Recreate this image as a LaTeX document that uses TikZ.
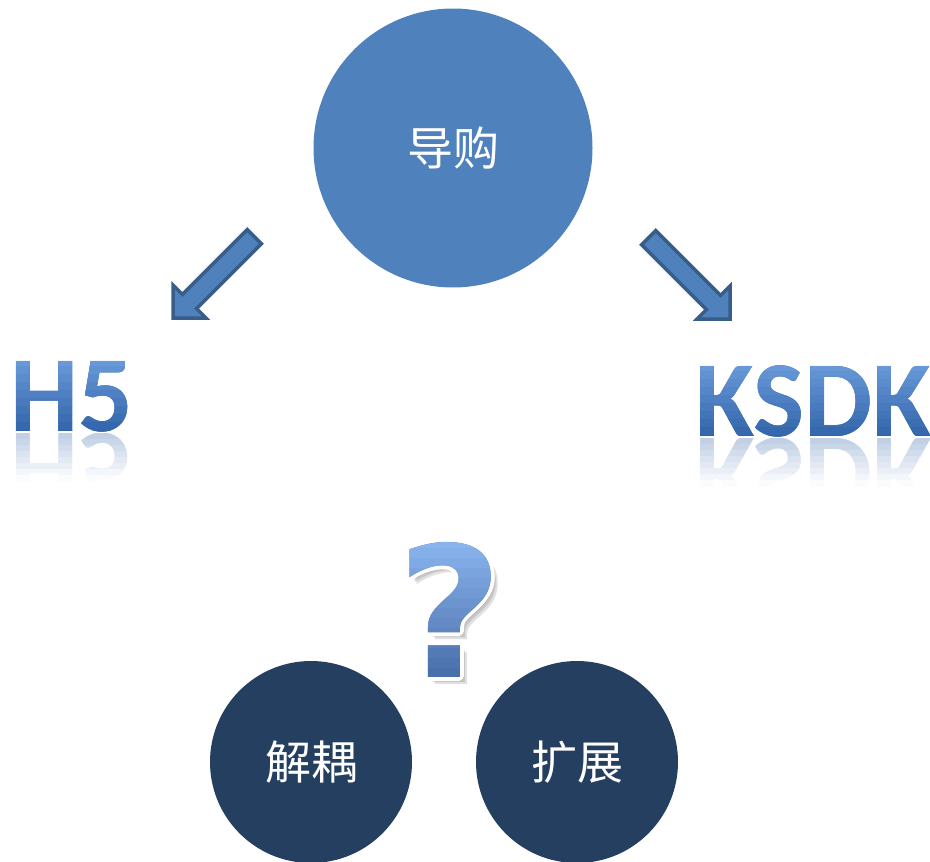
\documentclass[tikz,border=0pt]{standalone}
\usepackage{fontspec}
\newfontfamily\cjk{Noto Sans CJK SC}
\newfontfamily\carl{Carlito}
\newfontfamily\djv{DejaVu Sans}
\definecolor{cblue}{HTML}{4F81BD}
\definecolor{cnavy}{HTML}{243F60}
\definecolor{cedge}{HTML}{385D8A}
\definecolor{wtop}{HTML}{6E9EDD}
\definecolor{wbot}{HTML}{2F62A8}
\definecolor{qtop}{HTML}{8AB4EE}
\definecolor{qbot}{HTML}{4A70AC}
\begin{document}
\begin{tikzpicture}[x=1pt,y=-1pt,
  bigcirc/.style={circle, fill=cblue, draw=none, minimum size=279pt, inner sep=0pt, text=white, font=\cjk\fontsize{46}{46}\selectfont},
  navycirc/.style={circle, fill=cnavy, draw=none, minimum size=202pt, inner sep=0pt, text=white, font=\cjk\fontsize{46}{46}\selectfont},
  blockarrow/.style={fill=cblue, draw=cedge, line width=3.5pt, line join=miter},
  wordart/.style={inner sep=0pt, anchor=base west, font=\carl\bfseries\fontsize{108}{108}\selectfont},
  qmark/.style={inner sep=0pt, anchor=base, font=\djv\bfseries\fontsize{182}{182}\selectfont}]
\useasboundingbox (0,0) rectangle (930,862);

% circles
\node[bigcirc] (dg) at (453,148) {导购};
\node[navycirc] (jo) at (311,762) {解耦};
\node[navycirc] (kz) at (577,762) {扩展};

% block arrows
\draw[blockarrow] (173,318) -- (173,285) -- (182.4,294.4) -- (247.2,229.6) -- (261.4,243.8) -- (196.6,308.6) -- (206,318) -- cycle;
\draw[blockarrow] (730,319) -- (730,286) -- (720.6,295.4) -- (655.8,230.6) -- (641.6,244.8) -- (706.4,309.6) -- (697,319) -- cycle;

% H5 with gradient
\node[wordart, text=wbot] (h5) at (10,431) {H5};
\foreach \i in {0,...,10}{
  \pgfmathsetmacro\p{\i*10}
  \begin{scope}
    \clip (0,350+\i*8) rectangle (200,358.6+\i*8);
    \node[wordart, text=wbot!\p!wtop] (h5g\i) at (10,431) {H5};
  \end{scope}
}
\foreach \i in {0,...,7}{
  \pgfmathsetmacro\p{30-\i*4}
  \begin{scope}
    \clip (0,433+\i*6) rectangle (200,439.6+\i*6);
    \node[wordart, yscale=-1, text=wbot!\p!white] (h5r\i) at (10,433) {H5};
  \end{scope}
}

% KSDK with gradient
\node[wordart, text=wbot] (ksdk) at (695,436) {KSDK};
\foreach \i in {0,...,10}{
  \pgfmathsetmacro\p{\i*10}
  \begin{scope}
    \clip (650,355+\i*8) rectangle (930,363.6+\i*8);
    \node[wordart, text=wbot!\p!wtop] (ksg\i) at (695,436) {KSDK};
  \end{scope}
}
\foreach \i in {0,...,7}{
  \pgfmathsetmacro\p{30-\i*4}
  \begin{scope}
    \clip (650,438+\i*6) rectangle (930,444.6+\i*6);
    \node[wordart, yscale=-1, text=wbot!\p!white] (ksr\i) at (695,438) {KSDK};
  \end{scope}
}

% question mark
\foreach \d in {3,5,7}{
  \node[qmark, text=black, opacity=0.12] (qs\d) at (450+\d,677+\d) {?};
}
\foreach \a in {0,30,...,330}{
  \node[qmark, text=white] (qo\a) at ([shift={(\a:4)}]450,677) {?};
}
\node[qmark, text=qbot] (qm) at (450,677) {?};
\foreach \i in {0,...,13}{
  \pgfmathsetmacro\p{\i*100/13}
  \begin{scope}
    \clip (380,538+\i*10) rectangle (520,548.6+\i*10);
    \node[qmark, text=qbot!\p!qtop] (qg\i) at (450,677) {?};
  \end{scope}
}
\end{tikzpicture}
\end{document}
